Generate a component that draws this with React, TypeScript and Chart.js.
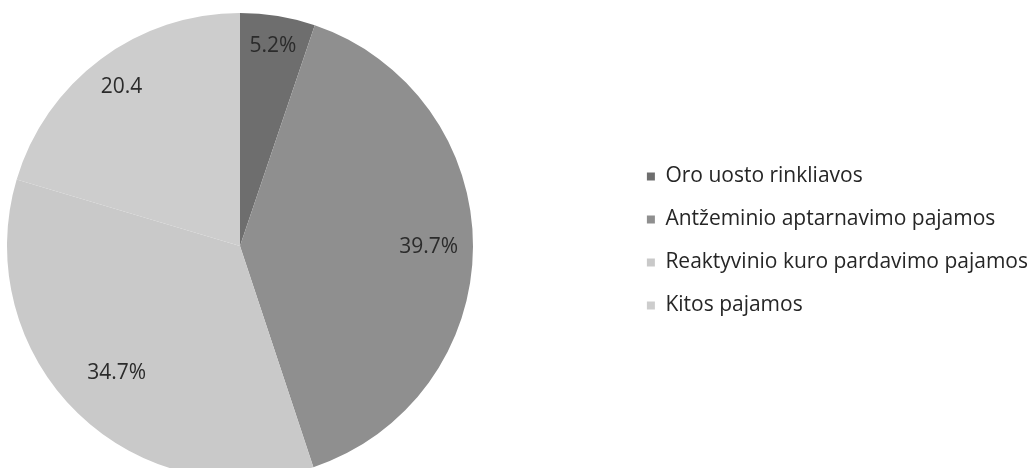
import React, { useEffect, useRef } from "react";
import { Chart, registerables } from "chart.js";

Chart.register(...registerables);

const categories = [
  "Oro uosto rinkliavos",
  "Antžeminio aptarnavimo pajamos",
  "Reaktyvinio kuro pardavimo pajamos",
  "Kitos pajamos",
];
const values = [5.2, 39.7, 34.7, 20.4];
const valueLabels = ["5.2%", "39.7%", "34.7%", "20.4"];
const sliceColors = ["#6e6e6e", "#8f8f8f", "#c9c9c9", "#cdcdcd"];
const labelRadius = [0.87, 0.81, 0.76, 0.85];

const FONT = "'Open Sans', 'DejaVu Sans', sans-serif";
const LEGEND_SIZE = 21;
const LEGEND_PAD = 22;
const LEGEND_SHIFT = 10;
const BOX = 8;
const W = 1029;
const H = 500;
// pie placement (centre and radius, in canvas pixels)
const PIE_CX = 240;
const PIE_CY = 246;
const PIE_R = 233;

const pieArea = {
  id: "pieArea",
  afterLayout(chart: any) {
    const left = PIE_CX - PIE_R;
    const top = PIE_CY - PIE_R;
    chart.chartArea = {
      left,
      top,
      right: left + 2 * PIE_R,
      bottom: top + 2 * PIE_R,
      width: 2 * PIE_R,
      height: 2 * PIE_R,
    };
    if (chart.legend) {
      chart.legend.left += LEGEND_SHIFT;
      chart.legend.right += LEGEND_SHIFT;
    }
  },
};

const sliceLabels = {
  id: "sliceLabels",
  afterDatasetsDraw(chart: any) {
    const ctx = chart.ctx;
    const meta = chart.getDatasetMeta(0);
    ctx.save();
    ctx.font = `21px ${FONT}`;
    ctx.fillStyle = "#2b2b2b";
    ctx.textAlign = "center";
    ctx.textBaseline = "middle";
    meta.data.forEach((arc: any, i: number) => {
      const p = arc.getProps(["x", "y", "startAngle", "endAngle", "outerRadius"], true);
      const mid = (p.startAngle + p.endAngle) / 2;
      const r = p.outerRadius * labelRadius[i];
      ctx.fillText(valueLabels[i], p.x + Math.cos(mid) * r, p.y + Math.sin(mid) * r);
    });
    ctx.restore();
  },
};

export default function App() {
  const ref = useRef<HTMLCanvasElement | null>(null);
  useEffect(() => {
    const canvas = ref.current!;
    const chart = new Chart(canvas, {
      type: "pie",
      data: {
        labels: categories,
        datasets: [
          {
            data: values,
            backgroundColor: sliceColors,
            borderWidth: 0,
          },
        ],
      },
      options: {
        responsive: false,
        animation: false,
        layout: { padding: { left: 0, right: 1, top: 8, bottom: 26 } },
        plugins: {
          tooltip: { enabled: false },
          legend: {
            position: "right",
            align: "center",
            labels: {
              boxWidth: BOX,
              boxHeight: BOX,
              padding: LEGEND_PAD,
              color: "#262626",
              font: { family: FONT, size: LEGEND_SIZE },
            },
          },
        },
      },
      plugins: [pieArea, sliceLabels],
    });
    return () => chart.destroy();
  }, []);
  return (
    <div
      style={{
        position: "fixed",
        left: 0,
        top: 0,
        width: W,
        height: 468,
        overflow: "hidden",
        background: "#fff",
      }}
    >
      <canvas ref={ref} width={W} height={H} style={{ display: "block" }} />
    </div>
  );
}
